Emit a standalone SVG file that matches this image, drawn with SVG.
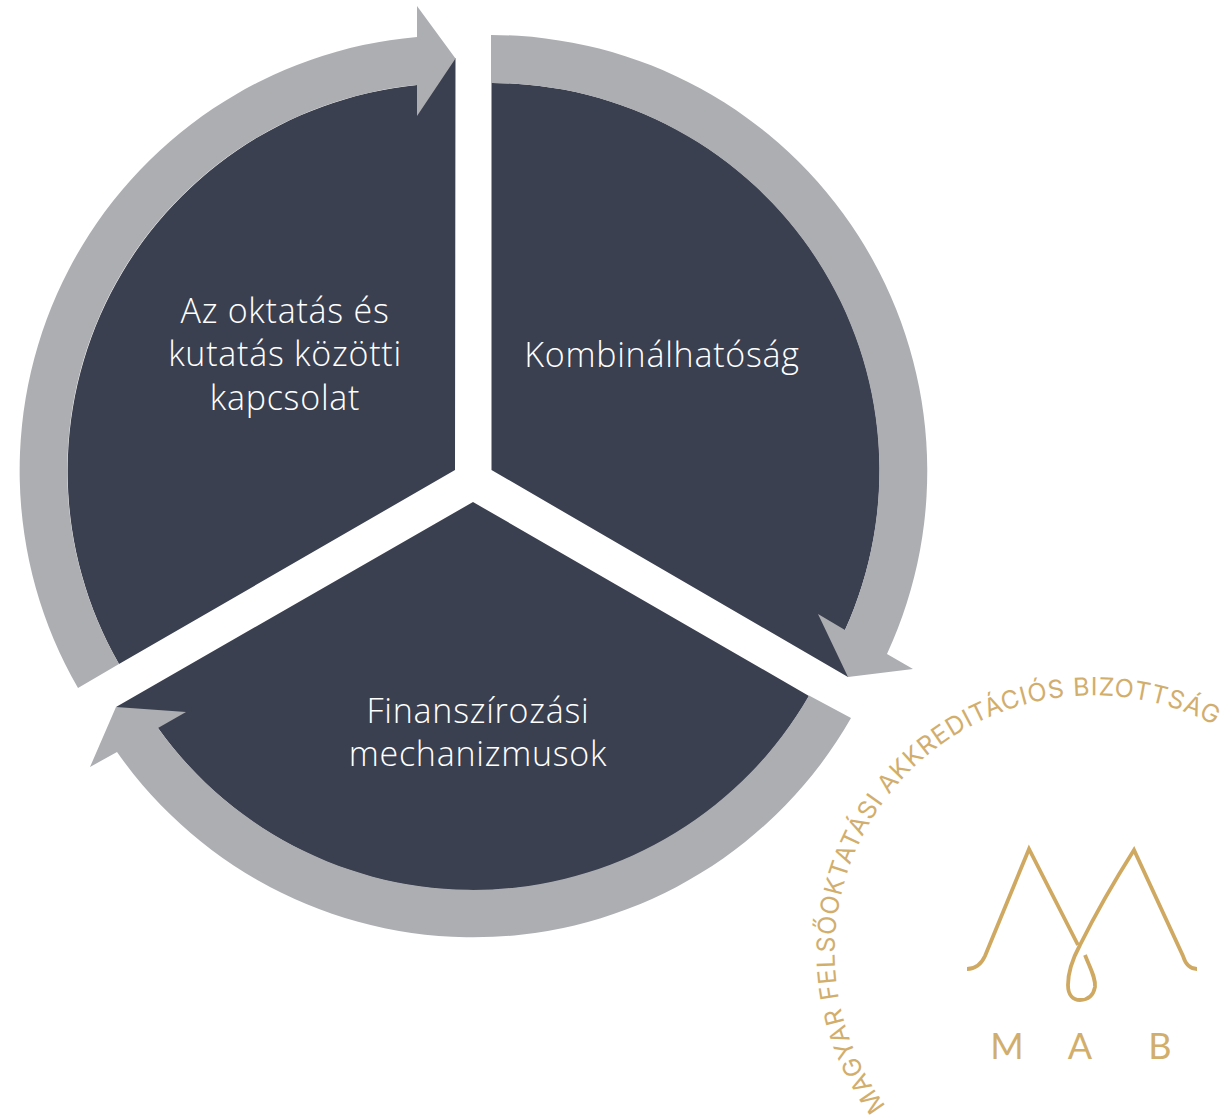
<svg xmlns="http://www.w3.org/2000/svg" width="1231" height="1116" viewBox="0 0 1231 1116">
<style>
.seg{fill:#3b4050}
.arrow{fill:#adaeb2}
.lbl{font-family:"Open Sans","Noto Sans",sans-serif;font-weight:300;font-size:34px;letter-spacing:.75px;fill:#fff;text-anchor:middle}
.gold{fill:#d2ae6d}
.mab{font-family:"Lato","Liberation Sans",sans-serif;font-weight:400;font-size:36px;text-anchor:middle}
.ring{font-family:"Inter","Liberation Sans",sans-serif;font-weight:400;font-size:25px}
.mk{fill:none;stroke:#cfa962;stroke-width:3.8}
</style>
<defs><path id="ringPath" d="M 886 1106 A 259 257 0 0 1 1220 728"/></defs>
<rect width="1231" height="1116" fill="#fff"/>
<g id="node-kombinalhatosag">
<path class="seg" d="M491.5 470 V83 A387 387 0 0 1 845 630 L848 677 Z"/>
<text class="lbl" x="662" y="367">Kombinálhatóság</text>
</g>
<g id="node-finanszirozasi">
<path class="seg" d="M473 502 L809 696 A387 387 0 0 1 158 728 L116 707 Z"/>
<text class="lbl" x="478" y="723">Finanszírozási</text>
<text class="lbl" x="478" y="766">mechanizmusok</text>
</g>
<g id="node-oktatas">
<path class="seg" d="M455 470 L119 664 A388 388 0 0 1 417 85 L455.5 58 Z"/>
<text class="lbl" x="285" y="323">Az oktatás és</text>
<text class="lbl" x="285" y="366">kutatás közötti</text>
<text class="lbl" x="285" y="410">kapcsolat</text>
</g>
<g id="connectors">
<path class="arrow" d="M491 35 A436 436 0 0 1 887 654 L913 669 L848 677 L818 614 L845 630 A387.500 387.500 0 0 0 491 83 Z"/>
<path class="arrow" d="M851 718 A435 435 0 0 1 117 752 L90 767 L116 707 L186 712 L158 728 A387.500 387.500 0 0 0 809 695.500 Z"/>
<path class="arrow" d="M78 688 A435 435 0 0 1 417 37 V6 L455.500 58.500 L417 116 V85 A387.500 387.500 0 0 0 119 664 Z"/>
</g>
<g id="logo">
<text class="ring gold"><textPath href="#ringPath" textLength="696" lengthAdjust="spacing">MAGYAR FELSŐOKTATÁSI AKKREDITÁCIÓS BIZOTTSÁG</textPath></text>
<path class="mk" d="M967 969 Q979 969 985 956 L1029 849 L1078 945"/>
<path class="mk" d="M1085 955 C1090 968 1096 978 1095 987 C1093 997 1087 1000 1080 1000 C1073 1000 1068 995 1068 985 C1068 972 1073 958 1080 945 C1095 915 1115 880 1134 850 L1183 956 Q1187 969 1197 969"/>
<text class="mab gold" x="1007" y="1059">M</text>
<text class="mab gold" x="1080" y="1059">A</text>
<text class="mab gold" x="1160" y="1059">B</text>
</g>
</svg>
